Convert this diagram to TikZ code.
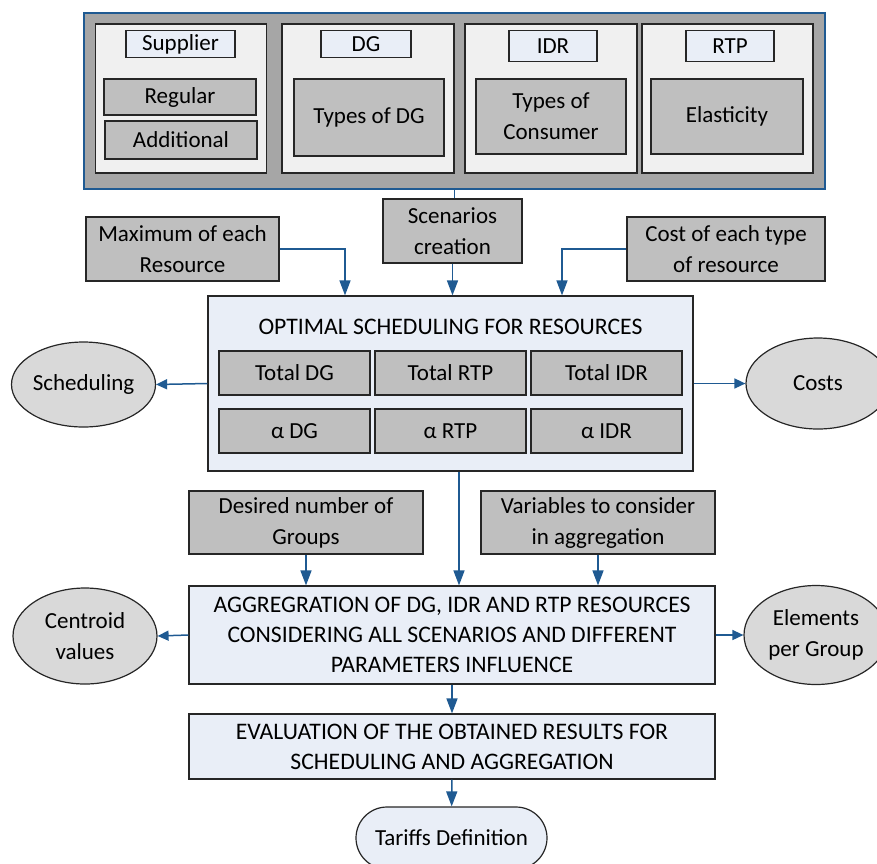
\documentclass[tikz,border=0pt]{standalone}
\usepackage{fontspec}
\setmainfont{Carlito}
\usetikzlibrary{positioning,arrows.meta,shapes.geometric,shapes.misc}
\definecolor{linkblue}{HTML}{1F5A92}
\definecolor{boxgray}{HTML}{BFBFBF}
\definecolor{framegray}{HTML}{A6A6A6}
\definecolor{panelgray}{HTML}{F0F0F0}
\definecolor{paleblue}{HTML}{E9EEF7}
\definecolor{ovalgray}{HTML}{D9D9D9}

\begin{document}
\begin{tikzpicture}[x=1pt,y=-1pt,
  every node/.style={font=\fontsize{23}{31}\selectfont,inner sep=0pt,align=center},
  capsfont/.style={font=\fontsize{23.7}{30}\selectfont},
  frame/.style={draw=linkblue,fill=framegray,line width=1.5pt},
  panel/.style={draw=black!85,fill=panelgray,line width=1.5pt,minimum height=149pt},
  tag/.style={draw=black!85,fill=paleblue,line width=1.2pt,minimum height=27pt},
  item/.style={draw=black!85,fill=boxgray,line width=1.2pt},
  stage/.style={draw=black!85,fill=paleblue,line width=1.2pt},
  oval/.style={ellipse,draw=black!85,fill=ovalgray,line width=1.2pt,minimum width=144pt},
  ar/.style={draw=linkblue,line width=1.5pt,-{Triangle[length=15pt,width=11pt]}},
  sidear/.style={ar,-{Triangle[length=11pt,width=10pt]}}]
\useasboundingbox (0,0) rectangle (877,863);

% inputs per resource
\node[frame,minimum width=741pt,minimum height=176pt] (outer) at (454.5,101) {};
\node[panel,minimum width=171pt] (psup) at (181,98.5) {};
\node[panel,minimum width=172pt] (pdg) at (368,98.5) {};
\node[panel,minimum width=172pt] (pidr) at (551,98.5) {};
\node[panel,minimum width=171pt] (prtp) at (727.5,98.5) {};
\node[tag,minimum width=109pt] (tsup) at (180.5,44) {Supplier};
\node[tag,minimum width=90pt] (tdgs) at (366,44) {DG};
\node[tag,minimum width=88pt,minimum height=31pt] (tidrs) at (553,46) {IDR};
\node[tag,minimum width=88pt,minimum height=31pt] (trtps) at (730,46) {RTP};
\node[item,minimum width=152pt,minimum height=36pt] (reg) at (180,97) {Regular};
\node[item,minimum width=152pt,minimum height=38pt] (add) at (181,140) {Additional};
\node[item,minimum width=150pt,minimum height=77pt] (typdg) at (369,117.5) {Types of DG};
\node[item,minimum width=150pt,minimum height=75pt] (typcon) at (551,116.5) {Types of\\Consumer};
\node[item,minimum width=152pt,minimum height=75pt] (elast) at (727,116.5) {Elasticity};

% scheduling stage
\node[item,minimum width=193pt,minimum height=64pt] (maxr) at (182.5,249) {Maximum of each\\Resource};
\node[item,minimum width=139pt,minimum height=64pt] (scen) at (452.5,231) {Scenarios\\creation};
\node[item,minimum width=198pt,minimum height=64pt] (cost) at (726,249) {Cost of each type\\of resource};
\node[stage,minimum width=485pt,minimum height=175pt] (opt) at (450.5,383.5) {};
\node[capsfont] (opttitle) at (450.5,327) {OPTIMAL SCHEDULING FOR RESOURCES};
\foreach \x/\n/\t in {294.5/tdg/Total DG,450.5/trtp/Total RTP,606.5/tidr/Total IDR}
  \node[item,minimum width=151pt,minimum height=44pt] (\n) at (\x,373) {\t};
\foreach \x/\n/\t in {294.5/adg/α DG,450.5/artp/α RTP,606.5/aidr/α IDR}
  \node[item,minimum width=151pt,minimum height=44pt] (\n) at (\x,431) {\t};
\node[oval,minimum height=85pt] (sched) at (83.5,384.5) {Scheduling};
\node[oval,minimum height=91pt] (costs) at (818,383.5) {Costs};

% aggregation stage
\node[item,minimum width=234pt,minimum height=63pt] (des) at (306,522.5) {Desired number of\\Groups};
\node[item,minimum width=234pt,minimum height=63pt] (vars) at (598,522.5) {Variables to consider\\in aggregation};
\node[stage,capsfont,minimum width=526pt,minimum height=98pt] (agg) at (452,635)
  {AGGREGRATION OF DG, IDR AND RTP RESOURCES\\CONSIDERING ALL SCENARIOS AND DIFFERENT\\PARAMETERS INFLUENCE};
\node[oval,minimum height=96pt] (cent) at (85,636) {Centroid\\values};
\node[oval,minimum height=99pt] (elem) at (816,635) {Elements\\per Group};
\node[stage,capsfont,minimum width=526pt,minimum height=65pt] (eval) at (452,746.5)
  {EVALUATION OF THE OBTAINED RESULTS FOR\\SCHEDULING AND AGGREGATION};
\node[rounded rectangle,draw=black!85,fill=paleblue,line width=1.2pt,minimum width=191pt,minimum height=62pt] (tar) at (451.5,838) {Tariffs Definition};

% connectors
\draw[linkblue,line width=1.5pt] (outer.south) -- (outer.south |- scen.north);
\draw[ar] (maxr.east) -| ([xshift=-105.5pt]opt.north);
\draw[ar] (scen.south) -- (scen.south |- opt.north);
\draw[ar] (cost.west) -| ([xshift=111.5pt]opt.north);
\draw[sidear] (opt.west) -- (sched.east);
\draw[sidear] (opt.east) -- (costs.west);
\draw[ar] ([xshift=8.5pt]opt.south) -- ([xshift=8.5pt]opt.south |- agg.north);
\foreach \a in {des,vars} \draw[ar] (\a.south) -- (\a.south |- agg.north);
\draw[sidear] (agg.west) -- (cent.east);
\draw[sidear] (agg.east) -- (elem.west);
\draw[ar] (agg) -- (eval);
\draw[ar] (eval) -- (tar);
\end{tikzpicture}
\end{document}
